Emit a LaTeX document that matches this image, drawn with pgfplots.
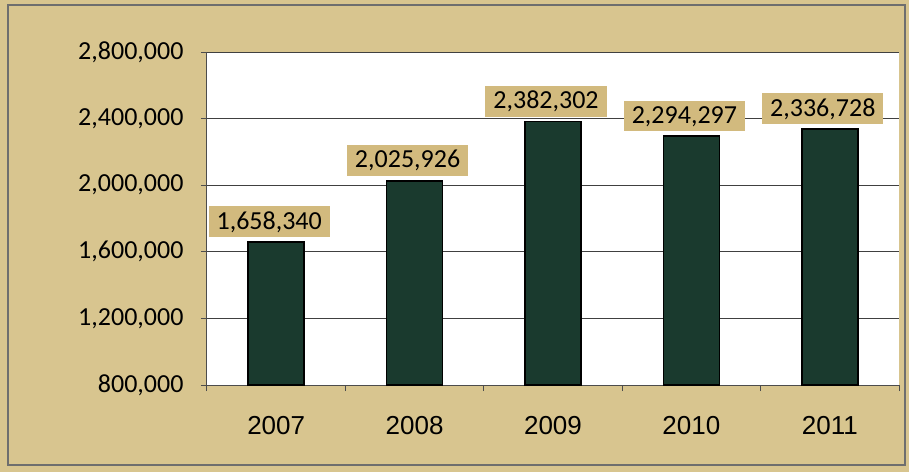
\documentclass[border=0pt]{standalone}
\usepackage{fontspec}
\setmainfont{Carlito}
\newfontfamily\arialfont{Liberation Sans}
\usepackage{pgfplots}
\usepackage{pgfplotstable}
\pgfplotsset{compat=1.18}
\definecolor{parch}{RGB}{216,197,143}
\definecolor{labeltan}{RGB}{210,186,126}
\definecolor{bargreen}{RGB}{26,58,46}
\definecolor{framegray}{RGB}{110,110,110}

\pgfplotstableread{
x y label
0 1658340 1,658,340
1 2025926 2,025,926
2 2382302 2,382,302
3 2294297 2,294,297
4 2336728 2,336,728
}\sales

\begin{document}
\begin{tikzpicture}
  % chart area
  \fill[parch] (-207pt,-87pt) rectangle (702pt,385pt);
  \draw[framegray, line width=1.2pt] (-199pt,-80pt) rectangle (698pt,380pt);
  \begin{axis}[
    at={(0pt,0pt)}, anchor=south west,
    scale only axis, width=692pt, height=333pt,
    xmin=-0.5, xmax=4.5,
    ymin=800000, ymax=2800000,
    ytick={800000,1200000,1600000,2000000,2400000,2800000},
    xtick={-0.5,0.5,1.5,2.5,3.5,4.5},
    xticklabels={2007,2008,2009,2010,2011},
    x tick label as interval,
    scaled y ticks=false,
    /pgf/number format/assume math mode=true,
    /pgf/number format/fixed,
    /pgf/number format/precision=0,
    /pgf/number format/1000 sep={,},
    yticklabel style={font=\fontsize{26}{30}\selectfont, xshift=-14pt},
    xticklabel style={font=\arialfont\fontsize{26}{30}\selectfont, yshift=-22pt},
    axis x line*=bottom, axis y line*=left,
    axis line style={-, black!70, line width=1pt},
    tick align=outside, major tick length=6pt,
    tick style={black!70, line width=1pt},
    ymajorgrids, grid style={black!75, line width=0.9pt},
    axis background/.style={fill=white},
  ]
    \addplot[ybar, bar width=56pt, fill=bargreen, draw=black, line width=1.5pt,
      nodes near coords, point meta=explicit symbolic,
      nodes near coords style={fill=labeltan, text=black, inner xsep=8pt, inner ysep=5pt,
        yshift=4pt, xshift=-7pt, font=\fontsize{26}{30}\selectfont}]
      table[x=x, y=y, meta=label] {\sales};
  \end{axis}
\end{tikzpicture}
\end{document}
